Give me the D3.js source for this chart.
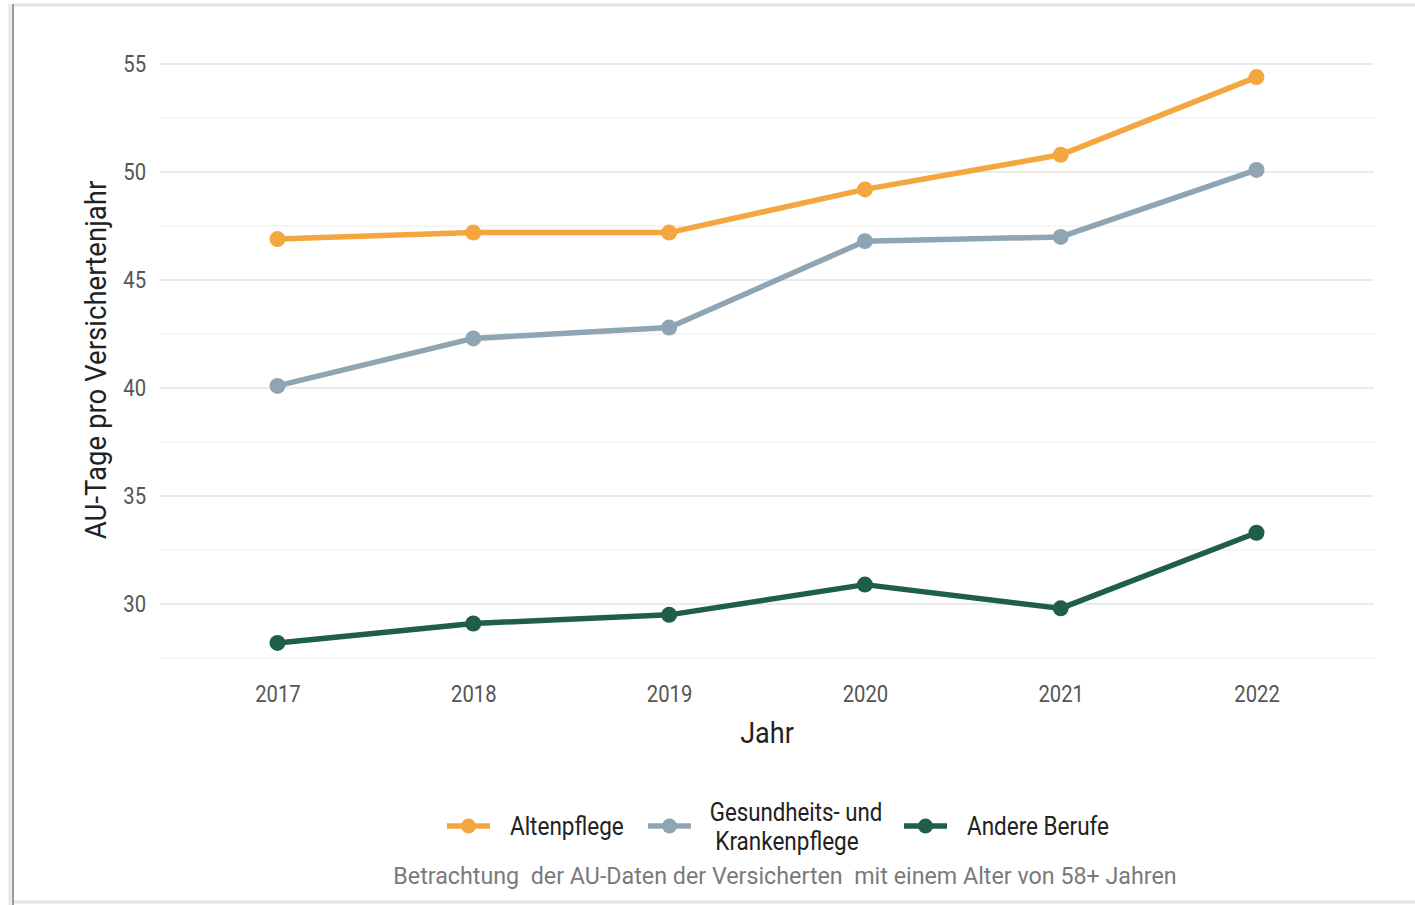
<!DOCTYPE html>
<html>
<head>
<meta charset="utf-8">
<script src="https://cdn.jsdelivr.net/npm/d3@7"></script>
<style>
  body { margin: 0; background: #fff; }
  text { font-family: "Roboto", "Liberation Sans", sans-serif; }
</style>
</head>
<body>
<svg id="chart" width="1415" height="905"></svg>
<script>
// data
var years = ["2017", "2018", "2019", "2020", "2021", "2022"];
var altenpflege = [46.9, 47.2, 47.2, 49.2, 50.8, 54.4];
var gesundheit = [40.1, 42.3, 42.8, 46.8, 47.0, 50.1];
var andere = [28.2, 29.1, 29.5, 30.9, 29.8, 33.3];
var seriesNames = ["Altenpflege", "Gesundheits- und Krankenpflege", "Andere Berufe"];
var seriesColors = ["#f4a640", "#8fa5b4", "#1f5e4b"];
var yTicks = [30, 35, 40, 45, 50, 55];
var yMinor = [27.5, 32.5, 37.5, 42.5, 47.5, 52.5];

var svg = d3.select("#chart");

// squeeze text horizontally around its own anchor (font in the picture is condensed)
function narrow(sel, k) {
	sel.each(function() {
		var t = d3.select(this);
		var tx = +t.attr("x") || 0, ty = +t.attr("y") || 0;
		t.attr("transform", "translate(" + tx + "," + ty + ") scale(" + k + ",1) translate(" + (-tx) + "," + (-ty) + ")");
	});
}

// frame
svg.append("line").attr("x1", 12).attr("x2", 1415).attr("y1", 5).attr("y2", 5)
	.attr("stroke", "#e2e2e2").attr("stroke-width", 3);
svg.append("line").attr("x1", 12).attr("x2", 1415).attr("y1", 902).attr("y2", 902)
	.attr("stroke", "#e2e2e2").attr("stroke-width", 3);
svg.append("line").attr("x1", 10).attr("x2", 10).attr("y1", 4).attr("y2", 905)
	.attr("stroke", "#e6e6e6").attr("stroke-width", 3);
svg.append("line").attr("x1", 13).attr("x2", 13).attr("y1", 4).attr("y2", 905)
	.attr("stroke", "#9a9a9a").attr("stroke-width", 2);

var plotLeft = 160, plotRight = 1374, plotTop = 49, plotBottom = 671;

var x = d3.scalePoint().domain(years).range([plotLeft, plotRight]).padding(0.6);
var y = d3.scaleLinear().domain([26.9, 55.7]).range([plotBottom, plotTop]);

// gridlines
svg.append("g").selectAll("line")
	.data(yMinor).enter().append("line")
	.attr("x1", plotLeft).attr("x2", plotRight)
	.attr("y1", function(d) { return y(d); })
	.attr("y2", function(d) { return y(d); })
	.attr("stroke", "#f2f2f2").attr("stroke-width", 1.5);
svg.append("g").selectAll("line")
	.data(yTicks).enter().append("line")
	.attr("x1", plotLeft).attr("x2", plotRight)
	.attr("y1", function(d) { return y(d); })
	.attr("y2", function(d) { return y(d); })
	.attr("stroke", "#eaeaea").attr("stroke-width", 2);

// axes (labels only)
var yAxis = svg.append("g").attr("transform", "translate(" + plotLeft + ",0)")
	.call(d3.axisLeft(y).tickValues(yTicks).tickSize(0).tickPadding(14));
var xAxis = svg.append("g").attr("transform", "translate(0," + plotBottom + ")")
	.call(d3.axisBottom(x).tickSize(0).tickPadding(15));
[yAxis, xAxis].forEach(function(a) {
	a.select(".domain").remove();
	a.selectAll("text").attr("fill", "#555").style("font-size", "23px")
		.style("font-family", "Roboto, sans-serif");
	narrow(a.selectAll("text"), 0.88);
});

var yTitle = svg.append("text")
	.attr("transform", "translate(106,360) rotate(-90) scale(0.92,1)")
	.attr("text-anchor", "middle")
	.attr("fill", "#222").style("font-size", "30px")
	.text("AU-Tage pro Versichertenjahr");
var xTitle = svg.append("text")
	.attr("x", 767).attr("y", 743)
	.attr("text-anchor", "middle")
	.attr("fill", "#222").style("font-size", "30px")
	.text("Jahr");
narrow(xTitle, 0.9);

// lines and points
var seriesData = [altenpflege, gesundheit, andere];
var line = d3.line()
	.x(function(d, i) { return x(years[i]); })
	.y(function(d) { return y(d); });

var groups = svg.selectAll(".series")
	.data(seriesData).enter().append("g").classed("series", true);
groups.append("path")
	.attr("d", function(d) { return line(d); })
	.attr("fill", "none")
	.attr("stroke", function(d, i) { return seriesColors[i]; })
	.attr("stroke-width", 5.5)
	.attr("stroke-linejoin", "round");
groups.each(function(d, si) {
	d3.select(this).selectAll("circle")
		.data(d).enter().append("circle")
		.attr("cx", function(v, i) { return x(years[i]); })
		.attr("cy", function(v) { return y(v); })
		.attr("r", 8)
		.attr("fill", seriesColors[si]);
});

// legend
var legendX = [447, 648, 904];
var legend = svg.selectAll(".legend")
	.data(seriesNames).enter().append("g").classed("legend", true)
	.attr("transform", function(d, i) { return "translate(" + legendX[i] + ",826)"; });
legend.append("line")
	.attr("x1", 0).attr("x2", 43).attr("y1", 0).attr("y2", 0)
	.attr("stroke", function(d, i) { return seriesColors[i]; })
	.attr("stroke-width", 5.5);
legend.append("circle")
	.attr("cx", 21.5).attr("cy", 0).attr("r", 7.5)
	.attr("fill", function(d, i) { return seriesColors[i]; });
legend.each(function(d, i) {
	var g = d3.select(this);
	if (i == 1) {
		var t1 = g.append("text").attr("x", 148).attr("y", -5).attr("text-anchor", "middle")
			.attr("fill", "#222").style("font-size", "25px").text("Gesundheits- und");
		var t2 = g.append("text").attr("x", 139).attr("y", 24).attr("text-anchor", "middle")
			.attr("fill", "#222").style("font-size", "25px").text("Krankenpflege");
		narrow(t1, 0.89);
		narrow(t2, 0.9);
	} else {
		var t = g.append("text").attr("x", 63).attr("y", 9).attr("fill", "#222")
			.style("font-size", "25px").text(d);
		narrow(t, 0.9);
	}
});

var caption = svg.append("text")
	.attr("x", 785).attr("y", 884)
	.attr("text-anchor", "middle")
	.attr("fill", "#7a7a7a").style("font-size", "24px")
	.attr("xml:space", "preserve")
	.text("Betrachtung  der AU-Daten der Versicherten  mit einem Alter von 58+ Jahren");
narrow(caption, 0.97);
</script>
</body>
</html>
